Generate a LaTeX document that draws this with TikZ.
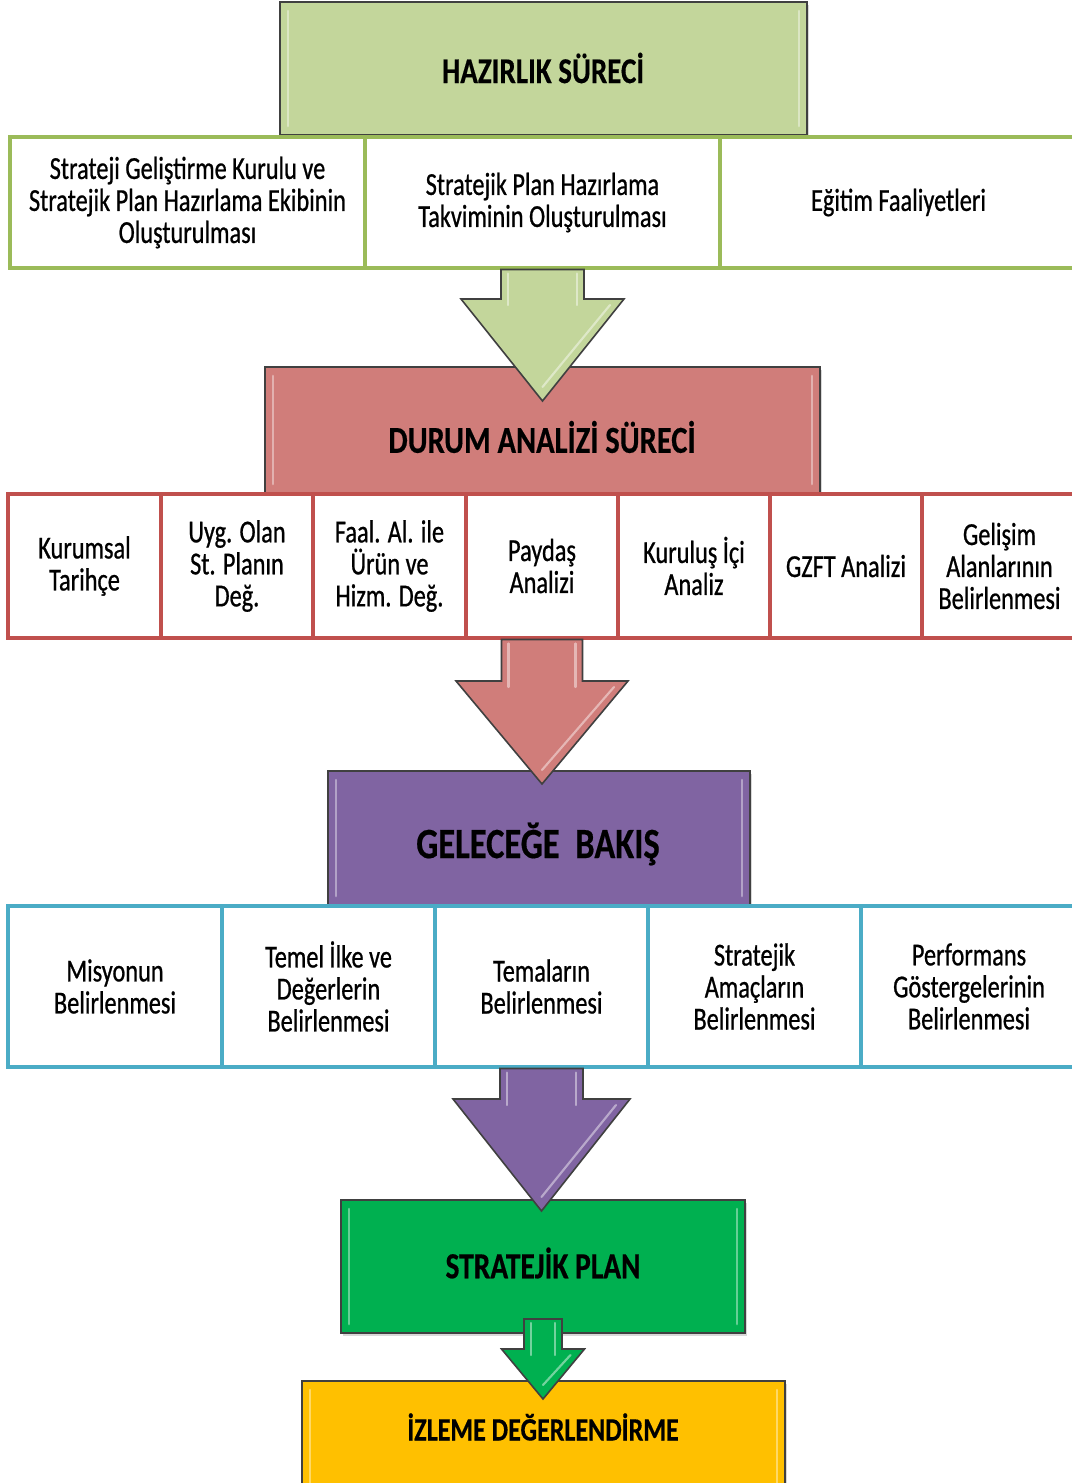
\documentclass[tikz,border=0pt]{standalone}
\usepackage{fontspec}
\setmainfont{Carlito}
\newfontfamily\cellfont{Carlito}[FakeStretch=0.76, FakeBold=0.7]
\newfontfamily\titlefont{Carlito}[FakeStretch=0.8, FakeBold=0.4]
\usetikzlibrary{shadows,calc}
\definecolor{hazfill}{HTML}{C3D69B}
\definecolor{hazline}{HTML}{9BBB59}
\definecolor{durfill}{HTML}{D07D7A}
\definecolor{durline}{HTML}{C0504D}
\definecolor{gelfill}{HTML}{8064A2}
\definecolor{gelline}{HTML}{4BACC6}
\definecolor{spfill}{HTML}{00B050}
\definecolor{izfill}{HTML}{FFC000}
\definecolor{edgegray}{HTML}{404040}
\newcommand\blockarr[6]{%
  \draw[blockarrow, fill=#1] ($(#2)+(-#4,0)$) -- ($(#3)+(-#4,-#6)$) -- ($(#3)+(-#5,-#6)$) -- (#3)
     -- ($(#3)+(#5,-#6)$) -- ($(#3)+(#4,-#6)$) -- ($(#2)+(#4,0)$) -- cycle;
  \draw[hilite] ($(#2)+(-#4+7,4)$) -- ($(#3)+(-#4+7,-#6+6)$);
  \draw[hilite] ($(#2)+(#4-7,4)$) -- ($(#3)+(#4-7,-#6+6)$);
  \draw[hilite] ($(#3)+(#5-14,-#6+6)$) -- ($(#3)+(0,-14)$);
}
\newcommand\bevel[1]{%
  \draw[bevelline] ($(#1.north west)+(9,10)$) -- ($(#1.south west)+(9,-10)$);
  \draw[bevelline] ($(#1.north east)+(-9,10)$) -- ($(#1.south east)+(-9,-10)$);
}
\begin{document}
\begin{tikzpicture}[x=0.75pt,y=-0.75pt,
  sz/.style 2 args={minimum width=#1*0.75pt, minimum height=#2*0.75pt},
  mainbox/.style={draw=edgegray, line width=1.5pt, inner sep=0pt,
    drop shadow={opacity=0.3, shadow xshift=1.5pt, shadow yshift=-2pt}},
  titletext/.style={font=\titlefont\bfseries\fontsize{#1}{30pt}\selectfont, text=black, inner sep=0pt},
  cell/.style={draw=#1, line width=2.3pt, fill=white, inner sep=0pt, align=center,
    font=\cellfont\fontsize{24pt}{24pt}\selectfont},
  blockarrow/.style={draw=edgegray, line width=1.2pt, line join=miter},
  hilite/.style={draw=white, opacity=0.45, line width=1.6pt, line cap=round},
  bevelline/.style={draw=white, opacity=0.4, line width=2pt, line cap=round}]
\useasboundingbox (0,0) rectangle (1071,1483);
\fill[white] (0,0) rectangle (1071,1483);

% --- HAZIRLIK SURECI
\node[mainbox, fill=hazfill, sz={527}{133}] (haz) at (543.5,68.5) {};
\bevel{haz}
\node[titletext=27.2pt] (hazT) at (543,68) {HAZIRLIK SÜRECİ};
\node[cell=hazline, sz={355}{131}] (r1c1) at (187.5,202.5) {Strateji Geliştirme Kurulu ve\\Stratejik Plan Hazırlama Ekibinin\\Oluşturulması};
\node[cell=hazline, sz={355}{131}] (r1c2) at (542.5,202.5) {Stratejik Plan Hazırlama\\Takviminin Oluşturulması};
\node[cell=hazline, sz={357}{131}] (r1c3) at (898.5,202.5) {Eğitim Faaliyetleri};

% --- DURUM ANALIZI
\node[mainbox, fill=durfill, sz={555}{126}] (dur) at (542.5,430) {};
\bevel{dur}
\node[titletext=28.6pt] (durT) at (542,437) {DURUM ANALİZİ SÜRECİ};
\coordinate (a1s) at (r1c2.south);
\coordinate (a1t) at ($(a1s |- dur.north)+(0,35)$);
\blockarr{hazfill}{a1s}{a1t}{41.5}{81.5}{102}

\node[cell=durline, sz={153}{144}] (r2c1) at (84.5,566) {Kurumsal\\Tarihçe};
\node[cell=durline, sz={152}{144}] (r2c2) at (237,566) {Uyg. Olan\\St. Planın\\Değ.};
\node[cell=durline, sz={153}{144}] (r2c3) at (389.5,566) {Faal. Al. ile\\Ürün ve\\Hizm. Değ.};
\node[cell=durline, sz={152}{144}] (r2c4) at (542,566) {Paydaş\\Analizi};
\node[cell=durline, sz={152}{144}] (r2c5) at (694,566) {Kuruluş İçi\\Analiz};
\node[cell=durline, sz={152}{144}] (r2c6) at (846,566) {GZFT Analizi};
\node[cell=durline, sz={155}{144}] (r2c7) at (999.5,566) {Gelişim\\Alanlarının\\Belirlenmesi};

% --- GELECEGE BAKIS
\node[mainbox, fill=gelfill, sz={422}{134}] (gel) at (539,838) {};
\bevel{gel}
\node[titletext=32.4pt] (gelT) at (538,844) {GELECEĞE\ \ BAKIŞ};
\coordinate (a2s) at (r2c4.south);
\coordinate (a2t) at ($(a2s |- gel.north)+(0,14)$);
\blockarr{durfill}{a2s}{a2t}{40.5}{86}{103}

\node[cell=gelline, sz={214}{161}] (r3c1) at (115,986.5) {Misyonun\\Belirlenmesi};
\node[cell=gelline, sz={213}{161}] (r3c2) at (328.5,986.5) {Temel İlke ve\\Değerlerin\\Belirlenmesi};
\node[cell=gelline, sz={213}{161}] (r3c3) at (541.5,986.5) {Temaların\\Belirlenmesi};
\node[cell=gelline, sz={213}{161}] (r3c4) at (754.5,986.5) {Stratejik\\Amaçların\\Belirlenmesi};
\node[cell=gelline, sz={216}{161}] (r3c5) at (969,986.5) {Performans\\Göstergelerinin\\Belirlenmesi};

% --- STRATEJIK PLAN
\node[mainbox, fill=spfill, sz={404}{133}] (sp) at (543,1266.5) {};
\bevel{sp}
\node[titletext=27.6pt] (spT) at (543,1263) {STRATEJİK PLAN};
\coordinate (a3s) at (r3c3.south);
\coordinate (a3t) at ($(a3s |- sp.north)+(0,12)$);
\blockarr{gelfill}{a3s}{a3t}{41.5}{88.5}{112}

% --- IZLEME DEGERLENDIRME
\node[mainbox, fill=izfill, sz={483}{111}] (iz) at (543.5,1436.5) {};
\bevel{iz}
\node[titletext=24.4pt] (izT) at (543,1427) {İZLEME DEĞERLENDİRME};
\coordinate (a4s) at ($(sp.south)+(0,-15)$);
\coordinate (a4t) at ($(a4s |- iz.north)+(0,19)$);
\blockarr{spfill}{a4s}{a4t}{19}{41.5}{50}
\end{tikzpicture}
\end{document}
